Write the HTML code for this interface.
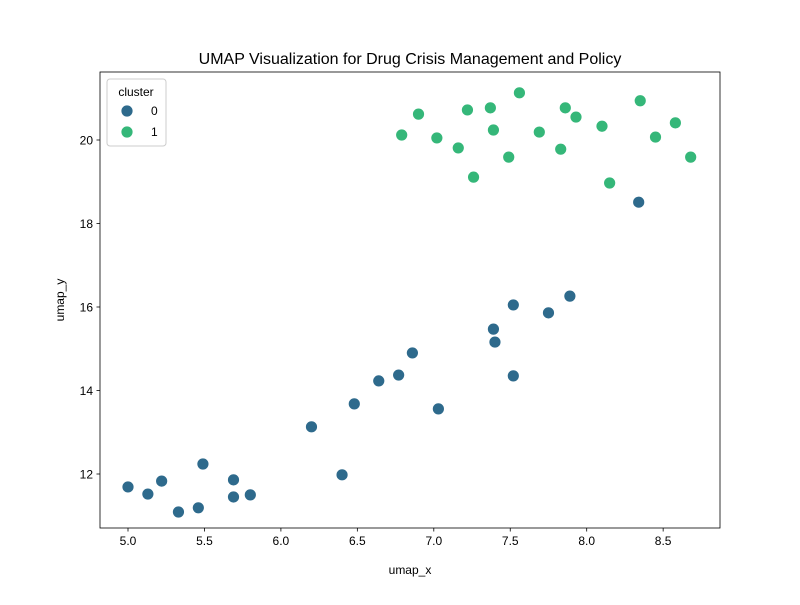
<!DOCTYPE html>
<html><head><meta charset="utf-8"><style>
body{margin:0;background:#fff;font-family:"Liberation Sans","DejaVu Sans",sans-serif}
</style></head><body>
<svg id="chart" width="800" height="600" xmlns="http://www.w3.org/2000/svg" font-family="Liberation Sans, DejaVu Sans, sans-serif"></svg>
<script>
const xTicks=[5.0,5.5,6.0,6.5,7.0,7.5,8.0,8.5];
const xTickLabels=["5.0","5.5","6.0","6.5","7.0","7.5","8.0","8.5"];
const yTicks=[12,14,16,18,20];
const yTickLabels=["12","14","16","18","20"];
const cluster0X=[5.00,5.13,5.22,5.33,5.46,5.49,5.69,5.69,5.80,6.20,6.40,6.48,6.64,6.77,6.86,7.03,7.39,7.40,7.52,7.52,7.75,7.89,8.34];
const cluster0Y=[11.69,11.52,11.83,11.09,11.19,12.24,11.45,11.86,11.50,13.13,11.98,13.68,14.23,14.37,14.90,13.56,15.47,15.16,14.35,16.05,15.86,16.26,18.51];
const cluster1X=[6.79,6.90,7.02,7.16,7.22,7.26,7.37,7.39,7.49,7.56,7.69,7.83,7.86,7.93,8.10,8.15,8.35,8.45,8.58,8.68];
const cluster1Y=[20.12,20.62,20.05,19.81,20.72,19.11,20.77,20.24,19.59,21.13,20.19,19.78,20.77,20.55,20.33,18.97,20.94,20.07,20.41,19.59];
const clusterLabels=["0","1"];
const colors=["#2e6a8c","#35b779"];

const svg=document.getElementById('chart');
const NS="http://www.w3.org/2000/svg";
const L=100,R=720,T=72,B=528;
const sx=v=>128+(v-5)*152.9;
const sy=v=>474-(v-12)*41.75;
function mk(tag,attrs,parent){const e=document.createElementNS(NS,tag);for(const k in attrs)e.setAttribute(k,attrs[k]);(parent||svg).appendChild(e);return e;}

const title=mk('text',{x:410,y:64,'text-anchor':'middle','font-size':16,fill:'#000'});


title.textContent="UMAP Visualization for Drug Crisis Management and Policy";

const plot=mk('g',{});



function drawSeries(xs,ys,c,name){
  const g=mk('g',{},plot);
  
  
  xs.forEach((x,i)=>{
    const p=mk('circle',{cx:sx(x),cy:sy(ys[i]),r:6,fill:c,stroke:'#fff','stroke-width':0.8},g);
    
    
  });
}
drawSeries(cluster0X,cluster0Y,colors[0],'cluster-0-points');
drawSeries(cluster1X,cluster1Y,colors[1],'cluster-1-points');

const frame=mk('rect',{x:L,y:T,width:R-L,height:B-T,fill:'none',stroke:'#000','stroke-width':0.8});



const xg=mk('g',{});


xTicks.forEach((v,i)=>{
  mk('line',{x1:sx(v),x2:sx(v),y1:B,y2:B+3.5,stroke:'#000','stroke-width':0.8},xg);
  const t=mk('text',{x:sx(v),y:B+17,'text-anchor':'middle','font-size':12},xg);
  
  
  t.textContent=xTickLabels[i];
});
const xt=mk('text',{x:410,y:574,'text-anchor':'middle','font-size':12});


xt.textContent="umap_x";

const yg=mk('g',{});


yTicks.forEach((v,i)=>{
  mk('line',{x1:L-3.5,x2:L,y1:sy(v),y2:sy(v),stroke:'#000','stroke-width':0.8},yg);
  const t=mk('text',{x:L-7,y:sy(v)+4.5,'text-anchor':'end','font-size':12},yg);
  
  
  t.textContent=yTickLabels[i];
});
const yt=mk('text',{x:64,y:300,'text-anchor':'middle','font-size':12,transform:'rotate(-90 64 300)'});


yt.textContent="umap_y";

const lg=mk('g',{});


mk('rect',{x:107,y:79,width:59,height:67,rx:3,fill:'#fff','fill-opacity':0.8,stroke:'#ccc','stroke-width':1},lg);
const lt=mk('text',{x:136,y:96,'text-anchor':'middle','font-size':12},lg);


lt.textContent="cluster";
clusterLabels.forEach((lab,i)=>{
  const e=mk('g',{},lg);
  
  
  mk('circle',{cx:127,cy:111+i*21,r:6,fill:colors[i],stroke:'#fff','stroke-width':0.8},e);
  const t=mk('text',{x:151,y:115+i*21,'font-size':12},e);
  t.textContent=lab;
});
</script>
</body></html>
